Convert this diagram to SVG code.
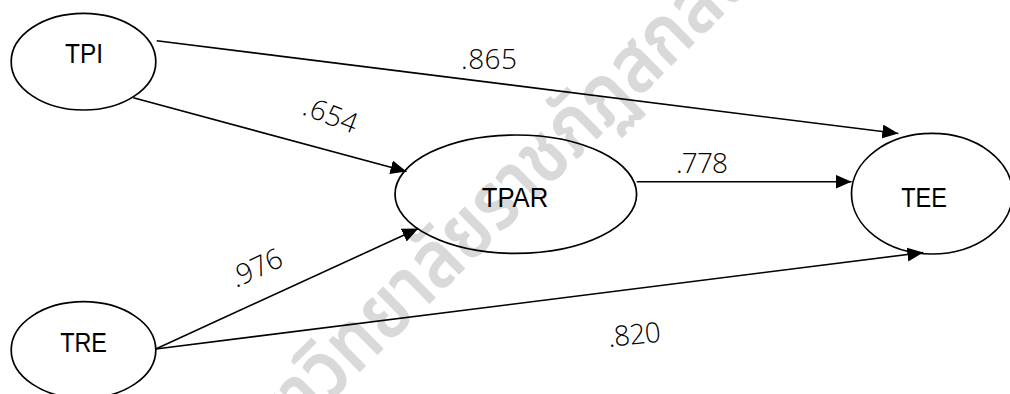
<svg xmlns="http://www.w3.org/2000/svg" width="1010" height="394" viewBox="0 0 1010 394">
<style>
.node{fill:none;stroke:#000;stroke-width:1.7}
.nlabel{font-family:"Liberation Sans",Arial,sans-serif;font-size:27px;fill:#000;text-anchor:middle}
.elabel{font-family:"Open Sans","Liberation Sans",sans-serif;font-weight:300;font-size:28px;fill:#000}
.edge{fill:none;stroke:#000;stroke-width:1.6;marker-end:url(#arrow)}
.wm{font-family:"Noto Sans Thai","Noto Sans","DejaVu Sans",sans-serif;font-size:68px;font-weight:600;fill:#d9d9d9}
</style>
<defs>
<marker id="arrow" markerUnits="userSpaceOnUse" markerWidth="17" markerHeight="15" refX="16" refY="7" orient="auto">
<path d="M0,0 L16,7 L0,14 z" fill="#000"/>
</marker>
</defs>
<rect width="1010" height="394" fill="#fff"/>
<text class="wm" x="0" y="0" text-anchor="middle" textLength="800" lengthAdjust="spacingAndGlyphs" transform="translate(532 203) rotate(-44.5) scale(1 1.2)">มหาวิทยาลัยราชภัฏสกลนคร</text>
<g id="connectors">
<line class="edge" x1="156.7" y1="40.7" x2="898.3" y2="133.5"/>
<line class="edge" x1="133.3" y1="97.7" x2="406.5" y2="171.5"/>
<line class="edge" x1="636.7" y1="181.7" x2="851.5" y2="181.7"/>
<line class="edge" x1="155.7" y1="349" x2="418.3" y2="228.5"/>
<line class="edge" x1="155.7" y1="349" x2="923.3" y2="252.5"/>
<text class="elabel" x="461" y="69.3" textLength="56">.865</text>
<text class="elabel" x="301" y="114" textLength="56" transform="rotate(21 301 114)">.654</text>
<text class="elabel" x="676" y="173" textLength="52">.778</text>
<text class="elabel" x="236" y="288" textLength="54" transform="rotate(-25 236 288)">.976</text>
<text class="elabel" x="609" y="347" textLength="53" transform="rotate(-6 609 347)">.820</text>
</g>
<g id="TPI">
<ellipse class="node" cx="83.5" cy="61.7" rx="72.3" ry="48.3"/>
<text class="nlabel" x="84" y="63.3" textLength="38" lengthAdjust="spacingAndGlyphs">TPI</text>
</g>
<g id="TRE">
<ellipse class="node" cx="83.5" cy="350" rx="72.3" ry="48.3"/>
<text class="nlabel" x="83.5" y="351.7" textLength="46.7" lengthAdjust="spacingAndGlyphs">TRE</text>
</g>
<g id="TPAR">
<ellipse class="node" cx="515.8" cy="194.2" rx="120.8" ry="59.2"/>
<text class="nlabel" x="515" y="207" textLength="66.6" lengthAdjust="spacingAndGlyphs">TPAR</text>
</g>
<g id="TEE">
<ellipse class="node" cx="932" cy="193.7" rx="80.5" ry="60.3"/>
<text class="nlabel" x="924" y="207.3" textLength="45.7" lengthAdjust="spacingAndGlyphs">TEE</text>
</g>
</svg>
